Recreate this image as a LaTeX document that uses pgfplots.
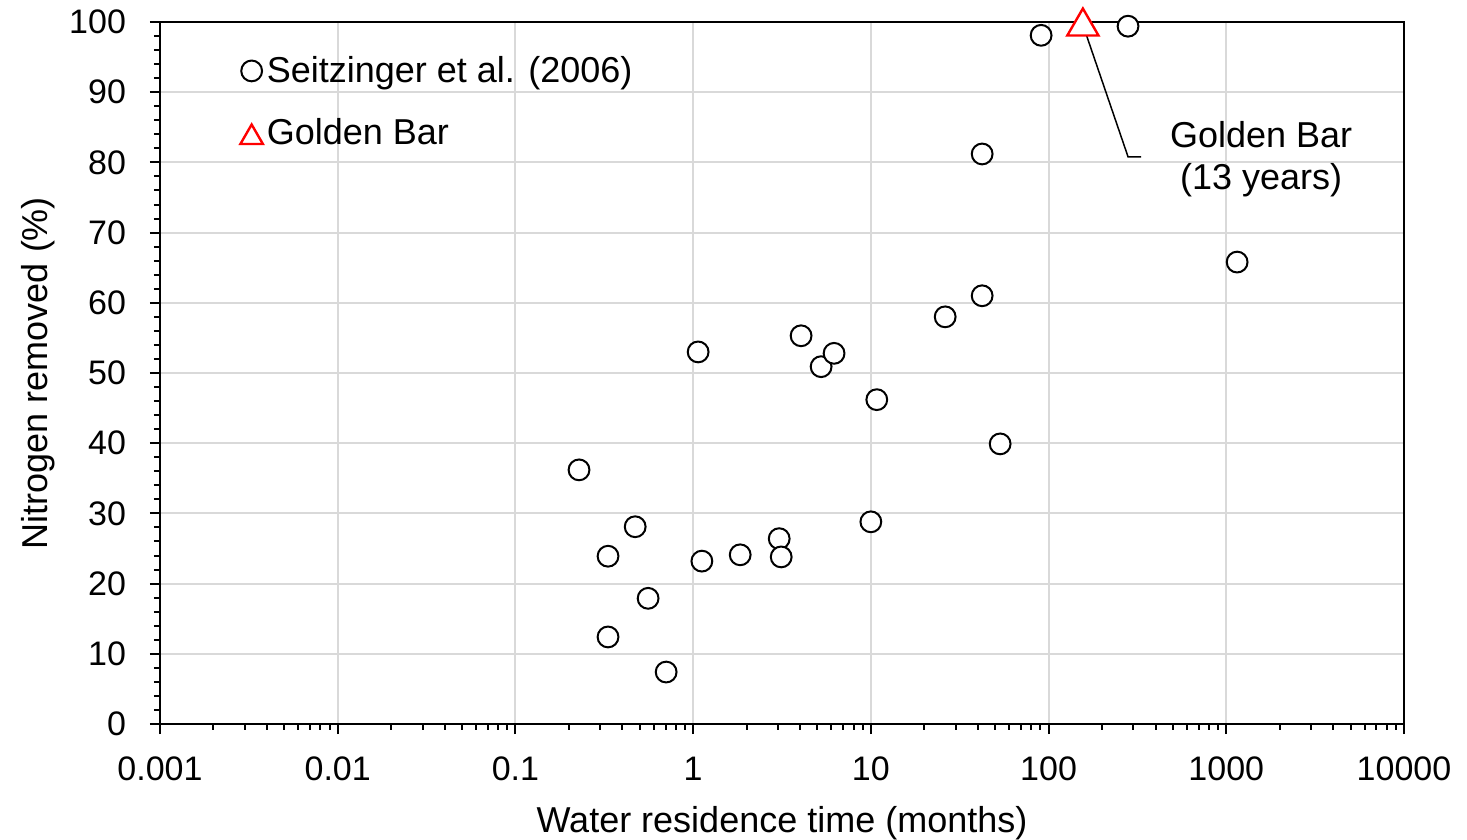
\documentclass[border=0pt]{standalone}
\usepackage{pgfplots}
\pgfplotsset{compat=1.18}
\usepackage{pgfplotstable}
\usepackage{fontspec}
\setmainfont{Liberation Sans}

% residence time (months) vs nitrogen removed (%)
\pgfplotstableread{
x y
0.228 36.2
0.332 23.9
0.472 28.1
0.332 12.4
0.558 17.9
0.705 7.4
1.067 53.0
1.12 23.2
1.84 24.1
3.05 26.4
3.13 23.8
4.05 55.3
5.25 50.9
6.21 52.8
10.8 46.2
10.0 28.8
26.2 58.0
42.3 81.2
42.3 61.0
53.4 39.9
90.8 98.1
280 99.4
1151 65.8
}\seitzinger

\begin{document}
\begin{tikzpicture}
\begin{axis}[
  width=622pt, height=351pt, scale only axis,
  xmode=log,
  xmin=0.001, xmax=10000, ymin=0, ymax=100,
  xtick={0.001,0.01,0.1,1,10,100,1000,10000},
  xticklabels={0.001,0.01,0.1,1,10,100,1000,10000},
  ytick={0,10,...,100},
  minor y tick num=4,
  tick pos=left, tick align=outside,
  major tick length=5pt, minor tick length=3pt,
  every tick/.style={black, line width=1pt},
  minor tick style={black, line width=1pt},
  axis line style={line width=1.25pt},
  grid=major, major grid style={gray!30, line width=1pt},
  /pgf/number format/assume math mode=true,
  tick label style={font=\fontsize{17}{20}\selectfont},
  xticklabel style={yshift=-8pt},
  yticklabel style={xshift=-8.5pt},
  label style={font=\fontsize{18}{21}\selectfont},
  xlabel={Water residence time (months)},
  ylabel={Nitrogen removed (\%)},
  xlabel style={yshift=-6pt},
  clip=false,
  legend style={draw=none, fill=none, at={(axis description cs:0,1)}, anchor=north west,
    xshift=37pt, yshift=-13pt, row sep=12.5pt,
    font=\fontsize{18}{21}\selectfont},
  legend cell align=left,
  legend image code/.code={\draw[#1] plot coordinates {(0pt,0pt)};},
]
\addplot[only marks, mark=*, mark size=5.2pt,
  mark options={draw=black, fill=white, line width=1pt}] table {\seitzinger};
\addlegendentry{Seitzinger et al. (2006)}
\addplot[only marks, mark=triangle*, mark size=9pt,
  mark options={draw=red, fill=white, line width=1.2pt, yshift=-2.25pt},
  legend image post style={mark size=6.5pt}] coordinates {(156,100)};
\addlegendentry{Golden Bar}
\draw[line width=0.75pt] (axis cs:156,99.6) -- (axis cs:280,80.8) -- (axis cs:332,80.8);
\node[align=center, font=\fontsize{18}{21}\selectfont] at (axis cs:1571,80.5) {Golden Bar\\(13 years)};
\end{axis}
\pgfresetboundingbox
\path[use as bounding box] ([shift={(-80pt,-58pt)}]current axis.south west)
  rectangle ([shift={(31.5pt,11pt)}]current axis.north east);
\end{tikzpicture}
\end{document}
